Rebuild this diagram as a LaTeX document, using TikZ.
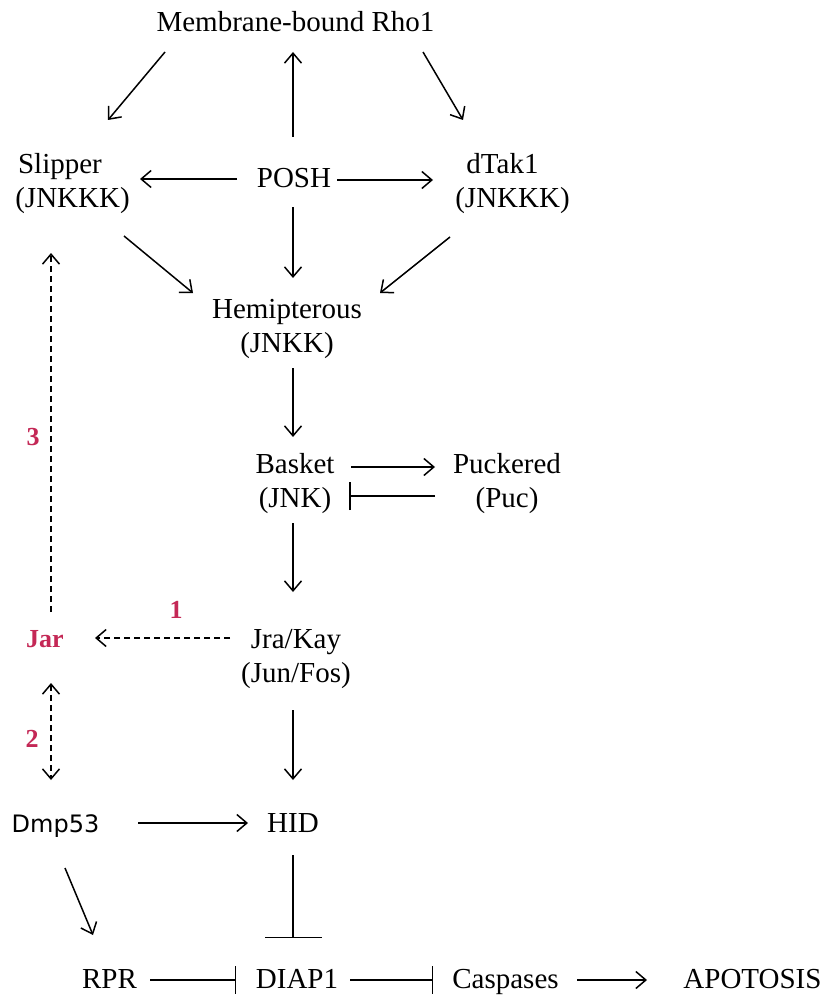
\documentclass[tikz,border=0pt]{standalone}
\usepackage{fontspec}
\setmainfont{Liberation Serif}
\newfontfamily\pfiftythree{DejaVu Sans}
\usetikzlibrary{arrows.meta,calc}
\definecolor{jarred}{RGB}{196,40,86}
\newcommand{\twoline}[2]{\begin{tabular}[t]{@{}c@{}}#1\\#2\end{tabular}}

\begin{document}
\begin{tikzpicture}[x=1pt,y=-1pt,
  lbl/.style={font=\fontsize{29}{34}\selectfont, inner sep=0pt, anchor=base},
  sanslbl/.style={font=\pfiftythree\fontsize{24}{30}\selectfont, inner sep=0pt, anchor=base},
  num/.style={font=\fontsize{26}{30}\selectfont\bfseries, text=jarred, inner sep=0pt, anchor=base},
  link/.style={line width=1.5pt, -{Straight Barb[length=10pt,width=17pt]}},
  dlink/.style={link, dash pattern=on 6pt off 4pt},
  dboth/.style={line width=1.5pt, dash pattern=on 6pt off 4pt,
    {Straight Barb[length=10pt,width=17pt]}-{Straight Barb[length=10pt,width=17pt]}},
  block/.style={line width=1.5pt, -{Bar[width=28pt]}},
  bigblock/.style={line width=1.5pt, -{Bar[width=57pt]}}
]
\useasboundingbox[fill=white] (0,0) rectangle (828,995);

% pathway members
\node[lbl] (rho)  at (295.5,32)  {Membrane-bound Rho1};
\node[lbl] (slip) at (72.5,174)  {\twoline{Slipper\hspace*{25pt}}{(JNKKK)}};
\node[lbl] (posh) at (294,188)   {POSH};
\node[lbl] (dtak) at (512.5,174) {\twoline{dTak1\hspace*{20pt}}{(JNKKK)}};
\node[lbl] (hemi) at (287,318)   {\twoline{Hemipterous}{(JNKK)}};
\node[lbl] (bsk)  at (295,473)   {\twoline{Basket}{(JNK)}};
\node[lbl] (puc)  at (507,473)   {\twoline{Puckered}{(Puc)}};
\node[lbl] (jra)  at (296,648)   {\twoline{Jra/Kay}{(Jun/Fos)}};
\node[num] (jar)  at (45,647)    {Jar};
\node[sanslbl] (dmp) at (55.5,832) {Dmp53};
\node[lbl] (hid)  at (293,832)   {HID};
\node[lbl] (rpr)  at (109.5,988) {RPR};
\node[lbl] (diap) at (297,988)   {DIAP1};
\node[lbl] (casp) at (505.5,988) {Caspases};
\node[lbl] (apo)  at (752.5,988) {APOTOSIS};

% numbered feedback labels
\node[num] (n1) at (176,618) {1};
\node[num] (n2) at (32,747)  {2};
\node[num] (n3) at (33,445)  {3};

% activation cascade
\draw[link] ($(rho.base)+(-130.5,20)$) -- ($(slip.base)+(35.5,-54)$);
\draw[link] ($(posh.base)+(-1,-51)$)   -- ($(rho.base)+(-2.5,20)$);
\draw[link] ($(rho.base)+(127.5,20)$)  -- ($(dtak.base)+(-49.5,-54)$);
\draw[link] ($(posh.base)+(-57,-9)$)   -- ($(slip.base)+(67.5,5)$);
\draw[link] ($(posh.base)+(43,-8)$)    -- ($(dtak.base)+(-79.5,6)$);
\draw[link] ($(slip.base)+(51.5,62)$)  -- ($(hemi.base)+(-94,-25)$);
\draw[link] ($(posh.base)+(-1,19)$)    -- ($(hemi.base)+(6,-40)$);
\draw[link] ($(dtak.base)+(-62.5,63)$) -- ($(hemi.base)+(93,-25)$);
\draw[link] ($(hemi.base)+(6,50)$)     -- ($(bsk.base)+(-2,-36)$);
\draw[link] ($(bsk.base)+(56,-6)$)     -- ($(puc.base)+(-72,-6)$);
\draw[block] ($(puc.base)+(-72,23)$)   -- ($(bsk.base)+(54,23)$);
\draw[link] ($(bsk.base)+(-2,50)$)     -- ($(jra.base)+(-3,-56)$);

% Jar feedback loops
\draw[dlink] ($(jra.base)+(-66,-10)$)  -- ($(jar.base)+(50,-9)$);
\draw[dlink] ($(jar.base)+(6,-35)$)    -- ($(slip.base)+(-21.5,79)$);
\draw[dboth] ($(jar.base)+(6,36)$)     -- ($(dmp.base)+(-4.5,-52)$);

% apoptosis branch
\draw[link] ($(jra.base)+(-3,62)$)     -- ($(hid.base)+(0,-52)$);
\draw[link] ($(dmp.base)+(82.5,-9)$)   -- ($(hid.base)+(-45,-9)$);
\draw[bigblock] ($(hid.base)+(0,23)$)  -- ($(diap.base)+(-4,-50)$);
\draw[link] ($(dmp.base)+(9.5,36)$)    -- ($(rpr.base)+(-16.5,-53)$);
\draw[block] ($(rpr.base)+(40.5,-8)$)  -- ($(diap.base)+(-61,-8)$);
\draw[block] ($(diap.base)+(53,-8)$)   -- ($(casp.base)+(-72.5,-8)$);
\draw[link] ($(casp.base)+(71.5,-8)$)  -- ($(apo.base)+(-105.5,-8)$);
\end{tikzpicture}
\end{document}
